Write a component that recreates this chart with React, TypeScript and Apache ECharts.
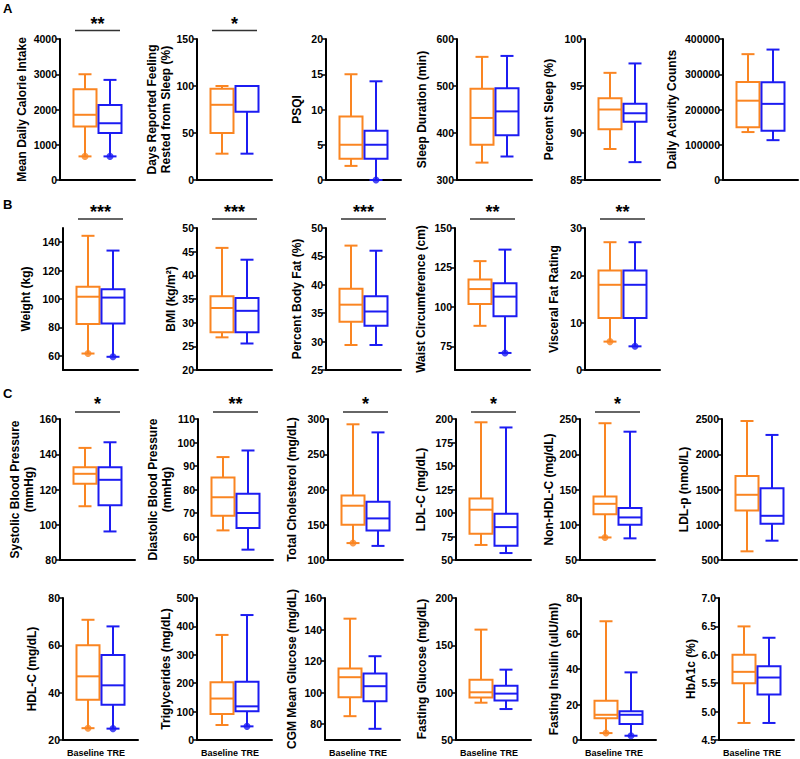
import React, { useEffect, useRef } from 'react';
import * as echarts from 'echarts';

// ---------- DATA ----------
const xCategories = ['', 'Baseline', 'TRE', ''];

const panelNames = [
  'Mean Daily Calorie Intake',
  'Days Reported Feeling\nRested from Sleep (%)',
  'PSQI',
  'Sleep Duration (min)',
  'Percent Sleep (%)',
  'Daily Activity Counts',
  'Weight (kg)',
  'BMI (kg/m\u00B2)',
  'Percent Body Fat (%)',
  'Waist Circumference (cm)',
  'Visceral Fat Rating',
  'Systolic Blood Pressure\n(mmHg)',
  'Diastolic Blood Pressure\n(mmHg)',
  'Total Cholesterol (mg/dL)',
  'LDL-C (mg/dL)',
  'Non-HDL-C (mg/dL)',
  'LDL-p (nmol/L)',
  'HDL-C (mg/dL)',
  'Triglycerides (mg/dL)',
  'CGM Mean Glucose (mg/dL)',
  'Fasting Glucose (mg/dL)',
  'Fasting Insulin (uIU/ml)',
  'HbA1c (%)',
];

const yMin = [0, 0, 0, 300, 85, 0, 50, 20, 25, 60, 0, 80, 50, 100, 50, 50, 500, 20, 0, 70, 50, 0, 4.5];
const yMax = [4000, 150, 20, 600, 100, 400000, 150, 50, 50, 150, 30, 160, 110, 300, 200, 250, 2500, 80, 500, 160, 200, 80, 7.0];

const yTicks = [
  [0, 1000, 2000, 3000, 4000],
  [0, 50, 100, 150],
  [0, 5, 10, 15, 20],
  [300, 400, 500, 600],
  [85, 90, 95, 100],
  [0, 100000, 200000, 300000, 400000],
  [60, 80, 100, 120, 140],
  [20, 25, 30, 35, 40, 45, 50],
  [25, 30, 35, 40, 45, 50],
  [75, 100, 125, 150],
  [0, 10, 20, 30],
  [80, 100, 120, 140, 160],
  [50, 60, 70, 80, 90, 100, 110],
  [100, 150, 200, 250, 300],
  [50, 75, 100, 125, 150, 175, 200],
  [50, 100, 150, 200, 250],
  [500, 1000, 1500, 2000, 2500],
  [20, 40, 60, 80],
  [0, 100, 200, 300, 400, 500],
  [80, 100, 120, 140, 160],
  [50, 100, 150, 200],
  [0, 20, 40, 60, 80],
  [4.5, 5.0, 5.5, 6.0, 6.5, 7.0],
];
const tickDecimals = [0, 0, 0, 0, 0, 0, 0, 0, 0, 0, 0, 0, 0, 0, 0, 0, 0, 0, 0, 0, 0, 0, 1];

// [min, Q1, median, Q3, max]
const baselineStats = [
  [670, 1520, 1850, 2575, 3000],
  [28, 50, 80, 97, 100],
  [2, 3, 5, 9, 15],
  [337, 375, 432, 494, 562],
  [88.3, 90.4, 92.5, 93.7, 96.4],
  [136000, 150000, 225000, 278000, 357000],
  [61.6, 82.4, 101.6, 108.7, 144.5],
  [26.9, 28.0, 33.1, 35.6, 45.8],
  [29.4, 33.5, 36.5, 39.3, 46.9],
  [88, 101.8, 111.3, 117.3, 129],
  [6, 11, 18, 21, 27],
  [110.5, 123.2, 128.9, 132.6, 143.6],
  [62.6, 68.8, 76.7, 85.1, 93.8],
  [124, 150, 177, 191.5, 292.5],
  [66, 78, 103.5, 115.5, 196.5],
  [82, 115, 129.7, 140, 244],
  [623, 1203, 1425, 1693, 2472],
  [25, 37, 46.9, 60, 70.8],
  [52.8, 91.5, 146, 203, 370],
  [85.1, 97.1, 109.8, 115.3, 146.9],
  [89.4, 94.9, 100.4, 113.7, 166.6],
  [3.9, 12.2, 14.2, 22.1, 66.9],
  [4.8, 5.5, 5.7, 6.0, 6.5],
];

const treStats = [
  [670, 1330, 1610, 2130, 2840],
  [28, 72.5, 100, 100, 100],
  [0, 3, 5, 7, 14],
  [350, 395, 446, 495, 564],
  [86.9, 91.2, 92.1, 93.1, 97.4],
  [113000, 140000, 216000, 277000, 370000],
  [59.3, 82.8, 101, 106.8, 134.1],
  [25.6, 28.0, 32.5, 35.2, 43.3],
  [29.4, 32.8, 35.3, 38.0, 46.0],
  [70.8, 94.1, 106.5, 115, 136.3],
  [5, 11, 18, 21, 27],
  [96.2, 111.1, 125.5, 132.6, 146.8],
  [54.4, 63.6, 70.0, 78.2, 96.6],
  [120, 142, 159, 182.5, 281],
  [57.4, 65.2, 85, 99.2, 191],
  [80.7, 100, 110.4, 123.6, 232],
  [774, 1014, 1127, 1519, 2274],
  [24.8, 34.9, 43.1, 55.9, 68],
  [48, 101, 118.5, 205, 440],
  [77.1, 94.6, 104.1, 112.1, 123.1],
  [82.7, 91.6, 99, 107.4, 124.3],
  [2.4, 9.0, 14.2, 16.2, 38.1],
  [4.8, 5.3, 5.6, 5.8, 6.3],
];

// panels whose minimum whisker end carries a dot
const baselineMinDot = [0, 6, 10, 13, 15, 17, 21];
const treMinDot = [0, 2, 6, 9, 10, 17, 18, 21];

const significance = ['**', '*', '', '', '', '', '***', '***', '***', '**', '**', '*', '**', '*', '*', '*', '', '', '', '', '', '', ''];

const rowLetters = ['A', 'B', 'C'];

// ---------- LAYOUT ----------
const panelRow = [0, 0, 0, 0, 0, 0, 1, 1, 1, 1, 1, 2, 2, 2, 2, 2, 2, 3, 3, 3, 3, 3, 3];
const panelLeft = [60, 197, 326, 457, 585, 723, 63, 197, 326, 455, 585, 60, 198, 328, 456, 580, 722, 63, 197, 325, 456, 581, 719];
const nameGaps = [31, 24, 22, 28, 29, 44, 30, 18, 22, 27, 24, 24, 23, 29, 28, 24, 31, 24, 23, 26, 27, 20, 20];
const rowTop = [39, 228, 419, 598];
const rowHeight = [141, 142, 141, 142];
const sigLineY = [30.5, 219, 412];
const starY = [19, 207, 399];
const letterY = [8.5, 204.5, 393];
const PANEL_W = 75;
const BOX_W = 23;
const CAP_W = 13;

const ORANGE = '#FA8522';
const BLUE = '#1C1CF2';
const FONT = 'Arial, "Liberation Sans", Helvetica, sans-serif';

function makeRender(color: string) {
  return (params: any, api: any) => {
    const x = api.value(0);
    const v = [1, 2, 3, 4, 5].map((k) => api.value(k));
    const p = v.map((val) => api.coord([x, val]));
    const cx = p[0][0];
    const [yMinP, yQ1, yMed, yQ3, yMaxP] = p.map((q: number[]) => q[1]);
    const style = { stroke: color, lineWidth: 2, fill: 'none' };
    return {
      type: 'group',
      children: [
        { type: 'line', shape: { x1: cx, y1: yQ3, x2: cx, y2: yMaxP }, style },
        { type: 'line', shape: { x1: cx, y1: yQ1, x2: cx, y2: yMinP }, style },
        { type: 'line', shape: { x1: cx - CAP_W / 2, y1: yMaxP, x2: cx + CAP_W / 2, y2: yMaxP }, style },
        { type: 'line', shape: { x1: cx - CAP_W / 2, y1: yMinP, x2: cx + CAP_W / 2, y2: yMinP }, style },
        { type: 'rect', shape: { x: cx - BOX_W / 2, y: yQ3, width: BOX_W, height: yQ1 - yQ3 }, style: { stroke: color, lineWidth: 2, fill: '#fff' } },
        { type: 'line', shape: { x1: cx - BOX_W / 2, y1: yMed, x2: cx + BOX_W / 2, y2: yMed }, style },
      ],
    };
  };
}

function buildOption() {
  const grid: any[] = [];
  const xAxis: any[] = [];
  const yAxis: any[] = [];
  const series: any[] = [];
  const graphic: any[] = [];

  panelNames.forEach((name, i) => {
    const row = panelRow[i];
    const left = panelLeft[i];
    grid.push({ left, top: rowTop[row], width: PANEL_W, height: rowHeight[row] });
    xAxis.push({
      gridIndex: i,
      type: 'category',
      data: xCategories,
      boundaryGap: false,
      axisLine: { onZero: false, lineStyle: { color: '#000', width: 2 } },
      axisTick: { show: false },
      axisLabel: {
        show: row === 3,
        interval: 0,
        margin: 8,
        formatter: (val: string) => (val === 'Baseline' ? '{b|Baseline}' : val === 'TRE' ? '{t|TRE}' : ''),
        rich: {
          b: { fontSize: 9, fontWeight: 'bold', color: '#000', fontFamily: FONT, padding: [0, 5, 0, 0] },
          t: { fontSize: 9, fontWeight: 'bold', color: '#000', fontFamily: FONT, padding: [0, 0, 0, 6] },
        },
      },
      splitLine: { show: false },
    });
    const dec = tickDecimals[i];
    yAxis.push({
      gridIndex: i,
      type: 'value',
      min: yMin[i],
      max: yMax[i],
      name,
      nameLocation: 'middle',
      nameRotate: 90,
      nameGap: nameGaps[i],
      nameTextStyle: { fontSize: 12, fontWeight: 'bold', color: '#000', fontFamily: FONT, lineHeight: 14 },
      axisLine: { show: true, onZero: false, lineStyle: { color: '#000', width: 2 } },
      axisTick: { show: true, length: 4, customValues: yTicks[i], lineStyle: { color: '#000', width: 1.5 } },
      axisLabel: {
        customValues: yTicks[i],
        formatter: (val: number) => val.toFixed(dec),
        fontSize: 10.5,
        fontWeight: 'bold',
        color: '#000',
        margin: 3,
        fontFamily: FONT,
      },
      splitLine: { show: false },
    });
    series.push({
      type: 'custom',
      xAxisIndex: i,
      yAxisIndex: i,
      renderItem: makeRender(ORANGE),
      data: [[1, ...baselineStats[i]]],
      encode: { x: 0, y: [1, 2, 3, 4, 5] },
      silent: true,
    });
    series.push({
      type: 'custom',
      xAxisIndex: i,
      yAxisIndex: i,
      renderItem: makeRender(BLUE),
      data: [[2, ...treStats[i]]],
      encode: { x: 0, y: [1, 2, 3, 4, 5] },
      silent: true,
    });
    const dots: any[] = [];
    if (baselineMinDot.includes(i)) dots.push({ value: [1, baselineStats[i][0]], itemStyle: { color: ORANGE } });
    if (treMinDot.includes(i)) dots.push({ value: [2, treStats[i][0]], itemStyle: { color: BLUE } });
    if (dots.length) {
      series.push({
        type: 'scatter',
        xAxisIndex: i,
        yAxisIndex: i,
        data: dots,
        symbol: 'circle',
        symbolSize: 7,
        silent: true,
        z: 5,
      });
    }
    const sig = significance[i];
    if (sig) {
      graphic.push({
        type: 'line',
        shape: { x1: left + 15, y1: sigLineY[row], x2: left + 60, y2: sigLineY[row] },
        style: { stroke: '#333', lineWidth: 1.5 },
      });
      graphic.push({
        type: 'text',
        x: left + 37.5,
        y: starY[row] + 5,
        style: { text: sig, font: `bold 18px ${FONT}`, fill: '#000', align: 'center', verticalAlign: 'middle' },
      });
    }
  });

  rowLetters.forEach((letter, r) => {
    graphic.push({
      type: 'text',
      x: 3,
      y: letterY[r],
      style: { text: letter, font: `bold 13px ${FONT}`, fill: '#000', align: 'left', verticalAlign: 'middle' },
    });
  });

  return {
    animation: false,
    backgroundColor: '#fff',
    grid,
    xAxis,
    yAxis,
    series,
    graphic,
  };
}

export default function App() {
  const ref = useRef<HTMLDivElement>(null);
  useEffect(() => {
    if (!ref.current) return;
    const chart = echarts.init(ref.current, undefined, { renderer: 'svg' });
    chart.setOption(buildOption() as any);
    return () => chart.dispose();
  }, []);
  return <div ref={ref} style={{ position: 'absolute', left: 0, top: 0, width: 800, height: 759 }} />;
}
